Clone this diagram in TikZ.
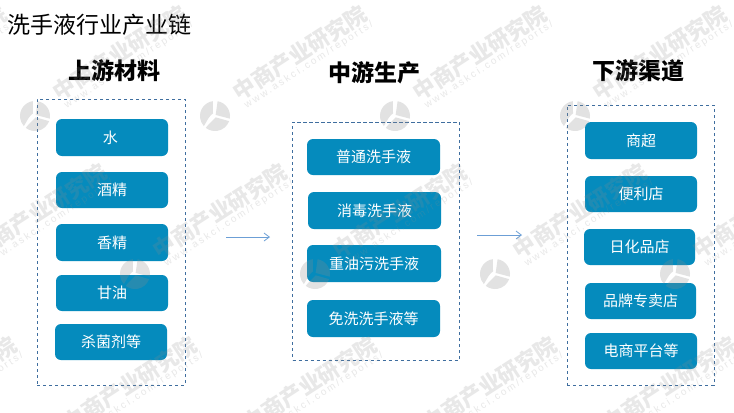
\documentclass[tikz,border=0pt]{standalone}
\usepackage{fontspec}
\usepackage{xcolor}
\setmainfont{Noto Sans CJK SC}
\newfontfamily\markfont[LetterSpace=22]{Liberation Sans}
\usetikzlibrary{arrows.meta}
\definecolor{boxblue}{HTML}{058BBD}
\definecolor{framedash}{HTML}{3F6E9F}
\definecolor{arrowblue}{HTML}{6C9FD6}
\definecolor{markgray}{HTML}{8C8C8C}
\tikzset{
    procbox/.style={fill=boxblue,rounded corners=4.5pt,text=white,inner sep=0pt,font=\fontsize{11.25pt}{13pt}\selectfont},
    dashframe/.style={draw=framedash,dash pattern=on 2.6pt off 1.9pt,line width=0.6pt},
    headtext/.style={font=\fontsize{17.25pt}{20pt}\selectfont\bfseries,inner sep=0pt},
    linkarrow/.style={draw=arrowblue,line width=0.6pt,-{Straight Barb[length=4pt,width=6pt]}},
    marktext/.style={text=markgray,opacity=0.2,rotate=33,inner sep=0pt},
    marklogo/.style={fill=markgray,opacity=0.25}
}
\begin{document}
\begin{tikzpicture}[x=0.75pt,y=-0.75pt]
    \useasboundingbox (0,0) rectangle (734,412);
    \fill [white] (0,0) rectangle (734,412);
    % title and headings
    \node (title) [anchor=west,inner sep=0pt,font=\fontsize{17.25pt}{20pt}\selectfont] at (7,25) {洗手液行业产业链};
    \node (headup) [headtext] at (114,71) {上游材料};
    \node (headmid) [headtext] at (374,73) {中游生产};
    \node (headdown) [headtext] at (638,71) {下游渠道};
    % dashed frames
    \node (frameup) [dashframe,minimum width=111pt,minimum height=214.5pt] at (111,242) {};
    \node (framemid) [dashframe,minimum width=125.25pt,minimum height=178.5pt] at (376,241) {};
    \node (framedown) [dashframe,minimum width=110.25pt,minimum height=210pt] at (640.5,245) {};
    % upstream
    \node (shui) [procbox,minimum width=84pt,minimum height=27.75pt] at (112,137.5) {\hspace{-2.5pt}水};
    \node (jiujing) [procbox,minimum width=84pt,minimum height=27pt] at (112,190) {酒精};
    \node (xiangjing) [procbox,minimum width=84pt,minimum height=27.75pt] at (112,242.5) {香精};
    \node (ganyou) [procbox,minimum width=84pt,minimum height=27pt] at (112,293) {甘油};
    \node (shajun) [procbox,minimum width=84pt,minimum height=27pt] at (111,342) {杀菌剂等};
    % midstream
    \node (putong) [procbox,minimum width=99.75pt,minimum height=27pt] at (373.5,157) {普通洗手液};
    \node (xiaodu) [procbox,minimum width=99.75pt,minimum height=27.75pt] at (374.5,210.5) {消毒洗手液};
    \node (zhongyou) [procbox,minimum width=100.5pt,minimum height=27.75pt] at (374,263.5) {重油污洗手液};
    \node (mianxi) [procbox,minimum width=99.75pt,minimum height=27.75pt] at (373.5,318.5) {免洗洗手液等};
    % downstream
    \node (shangchao) [procbox,minimum width=84pt,minimum height=27.75pt] at (641,140.5) {商超};
    \node (bianli) [procbox,minimum width=84pt,minimum height=27pt] at (641,194) {便利店};
    \node (rihua) [procbox,minimum width=83.25pt,minimum height=27pt] at (639.5,247) {日化品店};
    \node (pinpai) [procbox,minimum width=83.25pt,minimum height=27pt] at (640.5,301) {品牌专卖店};
    \node (dianshang) [procbox,minimum width=84pt,minimum height=27pt] at (641,351) {电商平台等};
    % arrows between the frames
    \coordinate (arrowa) at (226,237);
    \coordinate (arrowb) at (270,237);
    \coordinate (arrowc) at (477,235);
    \coordinate (arrowd) at (522,235);
    \draw [linkarrow] (arrowa) -- (arrowb);
    \draw [linkarrow] (arrowc) -- (arrowd);
    % watermark
    \foreach \wx/\wy in {-145/116,35/116,215/116,395/116,575/116,
                         -45/274,135/274,315/274,495/274,675/274,
                         -135/447,45/447,225/447,405/447,585/447} {
        \begin{scope}[shift={(\wx,\wy)}]
            \node (markcn\wx) [marktext,font=\fontsize{16.5pt}{20pt}\selectfont\bfseries] at (85,-63) {中商产业研究院};
            \node (markurl\wx) [marktext,font=\fontsize{7.5pt}{9pt}\markfont] at (94,-51) {www.askci.com/reports/};
            \begin{scope}[x=1pt,y=1pt]
                \fill [marklogo] (80:11.25) arc [start angle=80,end angle=-10,radius=11.25pt] -- (0.5,0.8) -- cycle;
                \fill [marklogo] (98:11.25) arc [start angle=98,end angle=222,radius=11.25pt] .. controls (-5.5,-3) and (-4.5,0) .. (-1.5,2) -- cycle;
                \fill [marklogo] (-20:11.25) arc [start angle=-20,end angle=-128,radius=11.25pt] .. controls (-4,-5) and (-1.5,-3.5) .. (0.5,-1) -- cycle;
            \end{scope}
        \end{scope}
    }
\end{tikzpicture}
\end{document}
